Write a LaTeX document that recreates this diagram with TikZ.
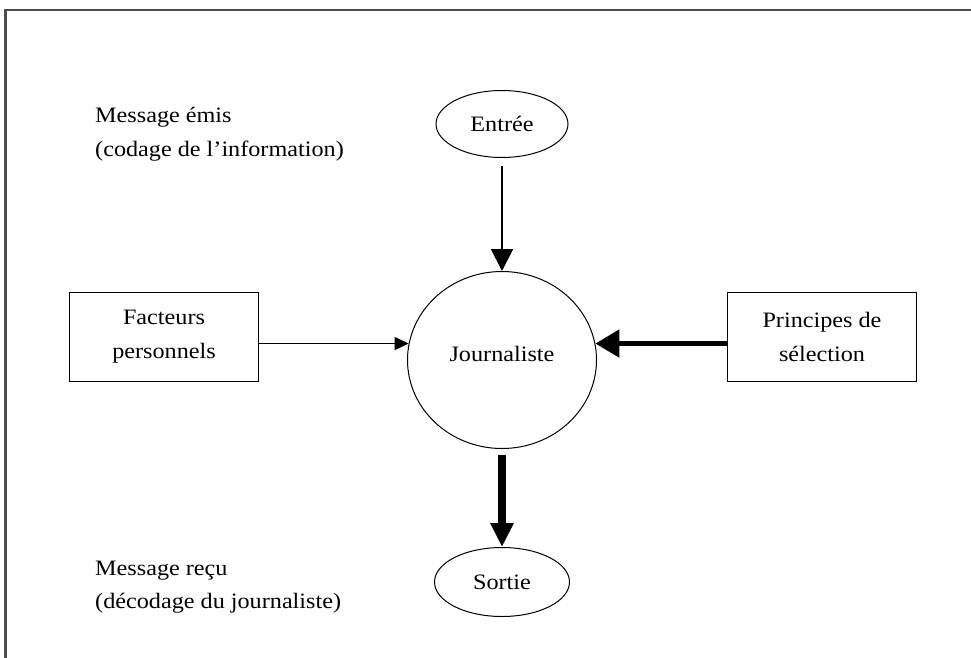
\documentclass[tikz,border=0pt]{standalone}
\usepackage{fontspec}
\setmainfont{Liberation Serif}[FakeStretch=1.1]
\usetikzlibrary{arrows.meta,shapes.geometric}
\begin{document}
\begin{tikzpicture}[x=1pt,y=-1pt,
  every node/.style={font=\fontsize{22}{34}\selectfont},
  box/.style={draw, line width=1.2pt, minimum width=189pt, minimum height=89pt, align=center, inner sep=0pt},
  oval/.style={draw, ellipse, line width=1pt, inner sep=0pt},
  lbl/.style={anchor=base west, inner sep=0pt},
  frame/.style={line width=2.5pt, draw=black!70}]
\useasboundingbox (0,0) rectangle (971,658);
\draw[frame] (5.5,660) -- (5.5,10) -- (973,10);

\node[oval, minimum width=132pt, minimum height=67pt] (entree) at (502,124) {Entrée};
\node[oval, minimum width=189pt, minimum height=177pt] (journ) at (502,360) {Journaliste\rule[-12pt]{0pt}{0pt}};
\node[oval, minimum width=135pt, minimum height=69pt] (sortie) at (502,582) {Sortie};
\node[box] (fact) at (164,337) {Facteurs\\personnels};
\node[box] (princ) at (822,337) {Principes de\\sélection};

\node[lbl] (emis1) at (95,123) {Message émis};
\node[lbl] (emis2) at (95,157) {(codage de l’information)};
\node[lbl] (recu1) at (95,575) {Message reçu};
\node[lbl] (recu2) at (95,608) {(décodage du journaliste)};

\draw[line width=2pt, -{Triangle[length=22pt,width=22pt]}, shorten <=8pt] (entree.south) -- (journ.north);
\draw[line width=1.2pt, -{Triangle[length=14pt,width=13pt]}] (fact.east |- journ.170) -- (journ.170);
\draw[line width=5pt, -{Triangle[length=24pt,width=27pt]}] (princ.west |- journ.10) -- (journ.10);
\draw[line width=8.5pt, -{Triangle[length=24pt,width=22pt]}, shorten <=6pt] (journ.south) -- (sortie.north);
\end{tikzpicture}
\end{document}
